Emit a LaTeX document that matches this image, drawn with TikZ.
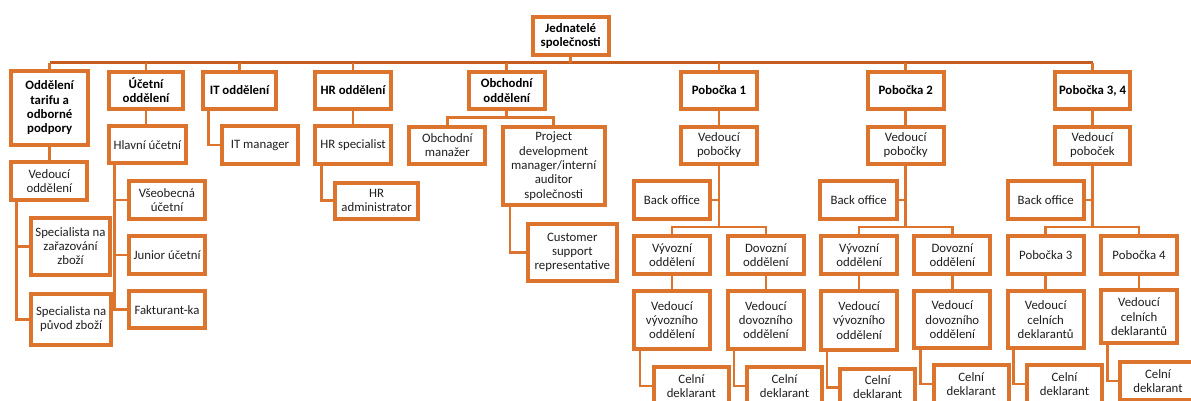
\documentclass[tikz,border=0pt]{standalone}
\usepackage{fontspec}
\setmainfont{Carlito}
\usetikzlibrary{calc}
\definecolor{orgor}{RGB}{221,116,46}
\definecolor{busor}{RGB}{198,92,30}
\newcommand\bx[7]{\node[#7, minimum width={#4-#2-4}, minimum height={#5-#3-4}] (#1) at ({(#2+#4)/2},{(#3+#5)/2}) {#6};}
\tikzset{
  orgbox/.style={draw=orgor, line width=4pt, fill=white, align=center, inner sep=0pt,
    font=\fontsize{12.8}{14.3}\selectfont, text=black!88},
  orghead/.style={orgbox, font=\fontsize{12.8}{14.3}\selectfont\bfseries, text=black},
  conn/.style={draw=orgor, line width=2.6pt},
  busline/.style={draw=busor, line width=2.8pt}
}
\begin{document}
\begin{tikzpicture}[x=1pt,y=-1pt]
\clip (0,0) rectangle (1191,401);
\fill[white] (0,0) rectangle (1191,401);
\coordinate (bus) at (571,62.7);
% connectors are drawn first, boxes on top
\begin{scope}[every node/.style={}]
\end{scope}
% root
\bx{J}{530.7}{15}{610.7}{56.7}{Jednatelé\\společnosti}{orghead}
% level 1
\bx{A}{9.3}{69}{90}{146.7}{Oddělení\\tarifu a\\odborné\\podpory}{orghead}
\bx{B}{107}{70}{185}{111}{Účetní\\oddělení}{orghead}
\bx{C}{201}{70}{278}{111}{IT oddělení}{orghead}
\bx{D}{313}{70}{393}{111}{HR oddělení}{orghead}
\bx{E}{466.7}{70}{546.7}{111}{Obchodní\\oddělení}{orghead}
\bx{F}{679}{70}{759}{111}{Pobočka 1}{orghead}
\bx{G}{865.7}{70}{945.7}{111}{Pobočka 2}{orghead}
\bx{H}{1052.7}{70}{1132.3}{111}{Pobočka 3, 4}{orghead}
% A column
\bx{A1}{9.3}{160}{89.3}{201.7}{Vedoucí\\oddělení}{orgbox}
\bx{A2}{29.3}{215.7}{111.7}{276.7}{Specialista na\\zařazování\\zboží}{orgbox}
\bx{A3}{29.3}{291.7}{113}{346.7}{Specialista na\\původ zboží}{orgbox}
% B column
\bx{B1}{107}{124.3}{187.7}{165}{Hlavní účetní}{orgbox}
\bx{B2}{127.3}{179.3}{206.7}{220.7}{Všeobecná\\účetní}{orgbox}
\bx{B3}{127.3}{234.3}{206.7}{275.7}{Junior účetní}{orgbox}
\bx{B4}{127.3}{289.3}{206.7}{330}{Fakturant-ka}{orgbox}
% C, D
\bx{C1}{220}{124.3}{300}{165.7}{IT manager}{orgbox}
\bx{D1}{313.3}{124.3}{392.7}{165.7}{HR specialist}{orgbox}
\bx{D2}{333.3}{180.7}{420}{220.7}{HR\\administrator}{orgbox}
% E
\bx{E1}{407.3}{125}{487.3}{165.7}{Obchodní\\manažer}{orgbox}
\bx{E2}{500.7}{125}{606.7}{207.3}{Project\\development\\manager/interní\\auditor\\společnosti}{orgbox}
\bx{E3}{526}{221.7}{618.7}{283.3}{Customer\\support\\representative}{orgbox}
% F
\bx{F1}{679}{125}{759}{165.7}{Vedoucí\\pobočky}{orgbox}
\bx{F2}{631.7}{179.3}{712.3}{220.7}{Back office}{orgbox}
\bx{F3}{632.3}{234}{711.7}{275.7}{Vývozní\\oddělení}{orgbox}
\bx{F4}{725.7}{234}{806}{275.7}{Dovozní\\oddělení}{orgbox}
\bx{F5}{632.3}{289.3}{711.7}{351}{Vedoucí\\vývozního\\oddělení}{orgbox}
\bx{F6}{725.7}{289.3}{806}{351}{Vedoucí\\dovozního\\oddělení}{orgbox}
\bx{F7}{651.7}{365}{731}{406.7}{Celní\\deklarant}{orgbox}
\bx{F8}{745}{365}{824}{406.7}{Celní\\deklarant}{orgbox}
% G
\bx{G1}{865.7}{125}{945.7}{165.7}{Vedoucí\\pobočky}{orgbox}
\bx{G2}{818.3}{179.3}{899}{220.7}{Back office}{orgbox}
\bx{G3}{819.3}{234}{899}{275.7}{Vývozní\\oddělení}{orgbox}
\bx{G4}{912.3}{234}{992.3}{275.7}{Dovozní\\oddělení}{orgbox}
\bx{G5}{819.3}{289.3}{899}{351.7}{Vedoucí\\vývozního\\oddělení}{orgbox}
\bx{G6}{912.3}{289.3}{992.3}{350}{Vedoucí\\dovozního\\oddělení}{orgbox}
\bx{G7}{838.3}{366.7}{917}{408}{Celní\\deklarant}{orgbox}
\bx{G8}{931.7}{363.3}{1010.7}{405}{Celní\\deklarant}{orgbox}
% H
\bx{H1}{1052.7}{125}{1132.3}{165.7}{Vedoucí\\poboček}{orgbox}
\bx{H2}{1005.7}{179.3}{1085.7}{220.7}{Back office}{orgbox}
\bx{H3}{1005.7}{234}{1085.7}{275.7}{Pobočka 3}{orgbox}
\bx{H4}{1099}{234}{1179}{275.7}{Pobočka 4}{orgbox}
\bx{H5}{1005.7}{289.3}{1085.7}{350}{Vedoucí\\celních\\deklarantů}{orgbox}
\bx{H6}{1099}{288.3}{1179}{345}{Vedoucí\\celních\\deklarantů}{orgbox}
\bx{H7}{1025}{363.3}{1104}{405}{Celní\\deklarant}{orgbox}
\bx{H8}{1118.3}{360}{1197.6}{401.7}{Celní\\deklarant}{orgbox}

% connectors
\draw[busline] (A.north |- bus) -- (H.north |- bus);
\draw[conn] (J.south) -- (J.south |- bus);
\foreach \n in {A,B,C,D,E,F,G,H} { \draw[conn] (\n.north) -- (\n.north |- bus); }
% A
\draw[conn] (A.south) -- (A.south |- A1.north);
\draw[conn] ([xshift=7.2pt]A1.south west) |- (A2.west);
\draw[conn] ([xshift=7.2pt]A1.south west) |- (A3.west);
% B
\draw[conn] (B.south) -- (B.south |- B1.north);
\draw[conn] ([xshift=7.7pt]B1.south west) |- (B2.west);
\draw[conn] ([xshift=7.7pt]B1.south west) |- (B3.west);
\draw[conn] ([xshift=7.7pt]B1.south west) |- (B4.west);
% C, D
\draw[conn] ([xshift=7.2pt]C.south west) |- (C1.west);
\draw[conn] (D.south) -- (D.south |- D1.north);
\draw[conn] ([xshift=8.2pt]D1.south west) |- (D2.west);
% E
\coordinate (Ej) at ($(E.south)+(0,6.3)$);
\draw[conn] (E.south) -- (Ej);
\draw[conn] (Ej) -| (E1.north);
\draw[conn] (Ej) -| (E2.north);
\draw[conn] ([xshift=9.2pt]E2.south west) |- (E3.west);
% F, G, H branches
\foreach \p in {F,G,H} {
  \draw[conn] (\p.south) -- (\p.south |- \p1.north);
  \coordinate (\p j) at ($(\p1.south |- \p3.north)+(0,-7)$);
  \draw[conn] (\p1.south) -- (\p j);
  \draw[conn] (\p2.east) -- (\p2.east -| \p1.south);
  \draw[conn] (\p j) -| (\p3.north);
  \draw[conn] (\p j) -| (\p4.north);
  \draw[conn] (\p3.south) -- (\p3.south |- \p5.north);
  \draw[conn] (\p4.south) -- (\p4.south |- \p6.north);
  \draw[conn] ([xshift=7.6pt]\p5.south west) |- (\p7.west);
  \draw[conn] ([xshift=8.2pt]\p6.south west) |- (\p8.west);
}
\end{tikzpicture}
\end{document}
